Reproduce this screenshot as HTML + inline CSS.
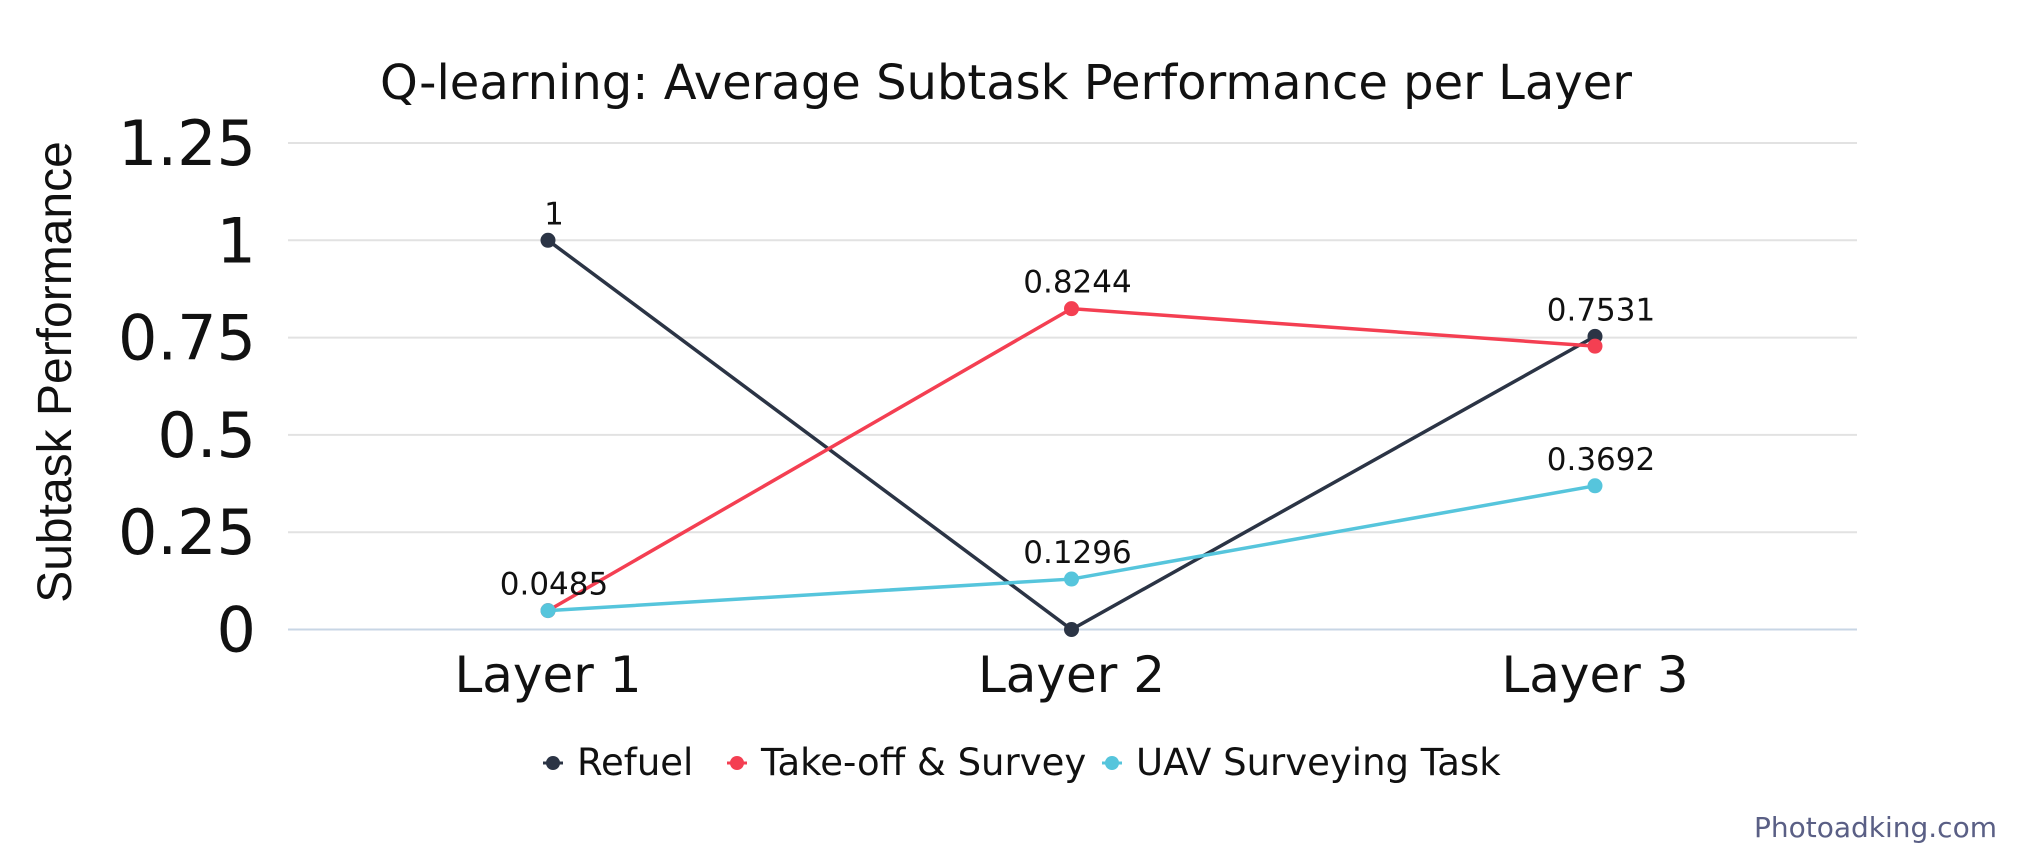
<!DOCTYPE html>
<html><head><meta charset="utf-8"><style>
body{margin:0;background:#fff;}
svg text{font-family:"DejaVu Sans","Liberation Sans",sans-serif;}
</style></head><body>
<svg id="chart" width="2018" height="848" viewBox="0 0 2018 848" xmlns="http://www.w3.org/2000/svg">
<text x="1006" y="99" font-size="48" text-anchor="middle" fill="#111">Q-learning: Average Subtask Performance per Layer</text>
<text transform="translate(71,372) rotate(-90)" font-size="48" text-anchor="middle" fill="#111" style="font-family:'Liberation Sans',sans-serif">Subtask Performance</text>
<g id="grid"></g><g id="series"></g><g id="legend"></g>
<text x="1997" y="837" font-size="28" text-anchor="end" fill="#5a5f85">Photoadking.com</text>
</svg>
<script>
const categories=["Layer 1","Layer 2","Layer 3"];
const yTicks=[0,0.25,0.5,0.75,1,1.25];
const yTickLabels=["0","0.25","0.5","0.75","1","1.25"];
const seriesNames=["Refuel","Take-off & Survey","UAV Surveying Task"];
const refuel=[1,0,0.7531];
const takeoff=[0.0485,0.8244,0.728];
const uav=[0.0485,0.1296,0.3692];
const refuelLabels=["1","","0.7531"];
const takeoffLabels=["","0.8244",""];
const uavLabels=["0.0485","0.1296","0.3692"];
const NS="http://www.w3.org/2000/svg";
const colors=["#2b3445","#f43f52","#56c5dc"];
const x0=288,x1=1857,yZero=629.5,yTop=143;
const xs=i=>548+i*523.5;
const ys=v=>yZero-(v/1.25)*(yZero-yTop);
function mk(t,a,p){const e=document.createElementNS(NS,t);for(const k in a)e.setAttribute(k,a[k]);p.appendChild(e);return e;}
const grid=document.getElementById('grid');
yTicks.forEach((v,i)=>{
 const l=mk('line',{x1:x0,x2:x1,y1:ys(v),y2:ys(v),stroke:v===0?'#c8d6e5':'#e2e2e2','stroke-width':2},grid);
 
 
 const t=mk('text',{x:256,y:ys(v)+22,'font-size':62,'text-anchor':'end',fill:'#111'},grid);
 t.textContent=yTickLabels[i];
 
 
});
categories.forEach((c,i)=>{
 const t=mk('text',{x:xs(i),y:692,'font-size':50,'text-anchor':'middle',fill:'#111'},grid);
 t.textContent=c;
 
 
});
const sg=document.getElementById('series');
const all=[refuel,takeoff,uav],labs=[refuelLabels,takeoffLabels,uavLabels];
all.forEach((d,s)=>{
 const g=mk('g',{},sg);
 
 
 const p=mk('polyline',{points:d.map((v,i)=>xs(i)+','+ys(v)).join(' '),fill:'none',stroke:colors[s],'stroke-width':3.5},g);
 
 
 d.forEach((v,i)=>{
  const c=mk('circle',{cx:xs(i),cy:ys(v),r:7.5,fill:colors[s]},g);
  
  
  if(labs[s][i]){
   const t=mk('text',{x:xs(i)+6,y:ys(v)-16,'font-size':31,'text-anchor':'middle',fill:'#111'},g);
   t.textContent=labs[s][i];
   
   
  }
 });
});
const lg=document.getElementById('legend');
const lx=[553,737,1112];
seriesNames.forEach((n,s)=>{
 const g=mk('g',{},lg);
 
 
 mk('line',{x1:lx[s]-10,x2:lx[s]+10,y1:763,y2:763,stroke:colors[s],'stroke-width':3},g);
 mk('circle',{cx:lx[s],cy:763,r:7,fill:colors[s]},g);
 const t=mk('text',{x:lx[s]+24,y:775,'font-size':37,fill:'#111'},g);
 t.textContent=n;
});
</script>
</body></html>
